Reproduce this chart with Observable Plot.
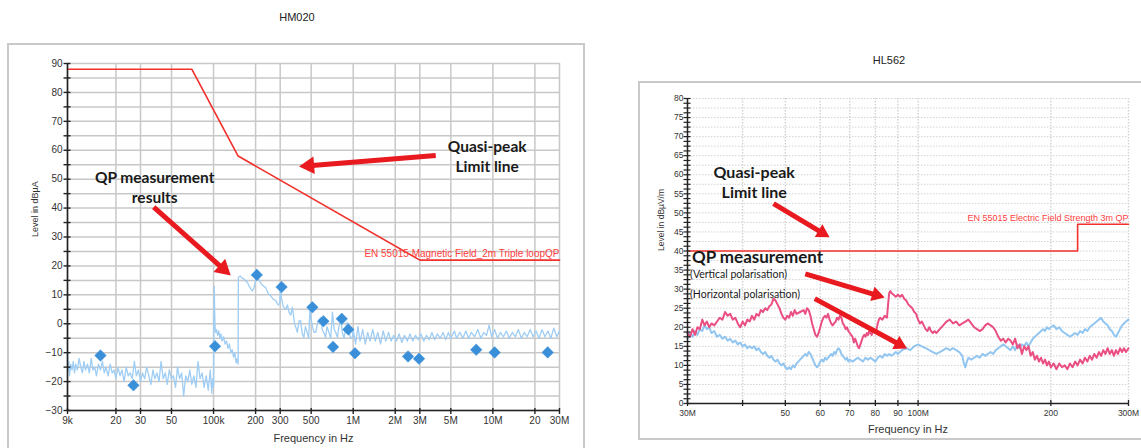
<!DOCTYPE html>
<html><head><meta charset="utf-8">
<script src="https://cdn.jsdelivr.net/npm/d3@7"></script>
<script src="https://cdn.jsdelivr.net/npm/@observablehq/plot@0.6"></script>
<style>
body{margin:0;background:#fff;font-family:"Liberation Sans",Arial,sans-serif;}
#root{position:relative;width:1141px;height:448px;overflow:hidden;background:#fff;}
.frame{position:absolute;border:2px solid #c9c9c9;box-sizing:border-box;}
.title{position:absolute;font-size:11px;color:#222;transform:translateX(-50%);white-space:nowrap;}
.chart{position:absolute;}
</style></head><body>
<div id="root">
 <div class="title" style="left:297px;top:11px">HM020</div>
 <div class="title" style="left:889px;top:54px">HL562</div>
 <div class="frame" style="left:7px;top:43px;width:578px;height:430px"></div>
 <div class="frame" style="left:638px;top:81px;width:530px;height:359px"></div>
 <div class="chart" id="left" style="left:0;top:44px;width:590px;height:404px"></div>
 <div class="chart" id="right" style="left:630px;top:82px;width:511px;height:366px"></div>
</div>
<script>
// ---------------- HM020 (left) : frequency in kHz ----------------
const hmXTicks = [9, 20, 30, 50, 100, 200, 300, 500, 1000, 2000, 3000, 5000, 10000, 20000, 30000];
const hmXLabels = ["9k", "20", "30", "50", "100k", "200", "300", "500", "1M", "2M", "3M", "5M", "10M", "20", "30M"];
const hmYLabels = [-30, -20, -10, 0, 10, 20, 30, 40, 50, 60, 70, 80, 90];
const hmLimit = [[9, 88], [70, 88], [150, 58], [3000, 22], [30000, 22]];
const hmLimitLabel = "EN 55015 Magnetic Field_2m Triple loopQP";
const hmQP = [[15.5, -11], [26.7, -21.3], [102.5, -7.8], [204, 16.9], [307, 12.7], [510, 5.7], [612, 0.9],
  [717, -8], [828, 1.7], [923, -2], [1030, -10.2], [2470, -11.3], [2960, -12.1], [7600, -9], [10300, -9.9], [24700, -9.9]];
const hmTrace = [
  [9, -10], [9.1, -16], [9.2, -13], [9.3, -18], [9.5, -14], [9.7, -16], [9.9, -13], [10.1, -17], [10.3, -14], [10.6, -16],
  [10.9, -12], [11.2, -15], [11.5, -17], [11.8, -13], [12.1, -16], [12.5, -14], [12.9, -17], [13.3, -12], [13.7, -16], [14.1, -15],
  [14.5, -18], [15, -14], [15.5, -16], [16, -13], [16.5, -17], [17, -15], [17.6, -18], [18.2, -14], [18.8, -17], [19.4, -16],
  [20, -19], [20.7, -15], [21.4, -18], [22.1, -16], [22.9, -20], [23.7, -15], [24.5, -18], [25.3, -17], [26.2, -19], [27.1, -13],
  [28, -18], [29, -16], [30, -20], [31, -17], [32.1, -19], [33.2, -15], [34.4, -18], [35.6, -21], [36.8, -16], [38, -19],
  [39.3, -17], [40.7, -20], [42.1, -13], [43.6, -19], [45.1, -17], [46.6, -21], [48.2, -16], [49.9, -19], [51.6, -18], [53.4, -22],
  [55.2, -15], [57.1, -19], [59.1, -17], [61.1, -25], [63.2, -18], [65.4, -20], [67.6, -16], [69.9, -21], [72.3, -18], [74.8, -22],
  [77.4, -13], [80, -19], [82.8, -17], [85.6, -22], [88.6, -18], [91.6, -23], [94.8, -16], [97, -24], [98.5, -19], [99.5, -22],
  [100, -21], [100.3, -14], [100.8, 8], [101.2, 13], [101.8, 5], [102.5, -1], [103.5, -3], [105, -2], [107, -4], [109, -2.5],
  [111, -5], [113, -3.5], [115, -6], [118, -4.5], [121, -7], [124, -6], [127, -8.5], [130, -7], [133, -10], [136, -9],
  [139, -11.5], [142, -10], [145, -13.5], [148, -12], [149.5, -14], [150, -13], [150.5, 16], [155, 16.5], [160, 15.8], [165, 15.5],
  [170, 14.8], [175, 14.3], [180, 13], [185, 12], [190, 11.3], [195, 12.5], [200, 15], [205, 16], [211, 15.3], [218, 14],
  [225, 13.2], [236, 12.5], [246, 10.5], [256, 9.7], [267, 8.5], [279, 8], [290, 6.5], [298, 7], [302, 13.8], [306, 9],
  [315, 6], [329, 5], [338, 6.5], [347, 4], [357, 3], [367, 5.7], [380, 0], [390, -1.5], [398, -3], [410, 1],
  [420, 1.1], [432, -3.5], [443, -4.7], [455, -1], [468, -3], [480, -5], [490, 5], [498, 2], [510, -1], [525, -3],
  [539, -3], [560, 1], [585, 2.2], [600, -2], [615, -3], [634, -4.7], [650, -1], [670, -3], [690, -5], [710, 4],
  [730, -2], [750, -3], [771, -4.7], [790, -1], [817, 1.7], [835, -3], [860, -5], [885, -1], [907, 0.5], [930, -3],
  [960, -5], [986, -4.7], [1000, -2], [1040, -7], [1080, -1], [1120, -6], [1170, -2], [1220, -7], [1270, -3], [1320, -6],
  [1380, -2], [1440, -6], [1500, -3], [1570, -7], [1640, -2.5], [1710, -6], [1790, -3], [1870, -6], [1950, -4], [2040, -6],
  [2130, -3.5], [2230, -6.5], [2330, -4], [2440, -6], [2550, -3.5], [2670, -6], [2790, -4], [2920, -5.5], [3050, -3.5], [3200, -6],
  [3350, -4], [3500, -5.5], [3660, -3], [3830, -5.5], [4000, -3.5], [4200, -5], [4400, -3], [4600, -5.5], [4800, -3], [5000, -5],
  [5300, -2.5], [5500, -5], [5800, -3], [6100, -5], [6400, -2.5], [6700, -5], [7000, -3], [7400, -4.5], [7800, -2], [8200, -5],
  [8600, -3], [9000, -4], [9400, -0.5], [9800, -4.5], [10300, -2], [10800, -5], [11300, -3], [11900, -4.5], [12500, -2.5], [13100, -5],
  [13800, -3], [14500, -4.5], [15200, -2], [16000, -5], [16800, -3], [17600, -4.5], [18500, -2], [19400, -4.5], [20400, -2.5], [21400, -5],
  [22500, -2], [23600, -4.5], [24800, -2.5], [26000, -5], [27300, -1.5], [28700, -4.5], [30000, -2.5]];
const hmNotes = [
  {x: 37.9, y: 47.4, text: "QP measurement\nresults"},
  {x: 9100, y: 58.1, text: "Quasi-peak\nLimit line"}];
const hmArrows = [
  {x1: 37.3, y1: 40.3, x2: 132.8, y2: 16.7},
  {x1: 3900, y1: 58.2, x2: 409, y2: 54.4}];

// ---------------- HL562 (right) : frequency in MHz ----------------
const hlXTicks = [30, 40, 50, 60, 70, 80, 90, 100, 200, 300];
const hlXLabels = ["30M", "", "50", "60", "70", "80", "90", "100M", "200", "300M"];
const hlYLabels = [0, 5, 10, 15, 20, 25, 30, 35, 40, 45, 50, 55, 60, 65, 70, 75, 80];
const hlLimit = [[30, 40], [230, 40], [230, 47], [300, 47]];
const hlLimitLabel = "EN 55015 Electric Field Strength 3m QP";
const hlVertical = [
  [30, 18.5], [30.4, 17.5], [30.8, 19.5], [31.2, 18], [31.6, 20], [32, 19.5], [32.4, 22], [32.8, 20.5], [33.2, 21.5], [33.6, 20],
  [34, 21], [34.5, 20.5], [35, 21.5], [35.5, 22.5], [36, 22], [36.5, 24], [37, 23], [37.5, 23.5], [38, 22], [38.5, 22.5],
  [39, 21], [39.5, 20], [40, 21.5], [40.5, 20.5], [41, 22], [41.5, 21.5], [42, 23], [42.5, 22], [43, 23.5], [43.5, 23],
  [44, 24.5], [44.5, 24], [45, 25], [45.5, 24.5], [46, 25.5], [46.5, 26], [47, 27.5], [47.5, 27], [48, 26], [48.5, 25],
  [49, 23.5], [49.5, 22.5], [50, 22], [50.5, 23], [51, 22.5], [51.5, 24], [52, 23], [52.5, 24.5], [53, 23.5], [54, 24],
  [55, 24.5], [55.5, 23.5], [56, 25], [56.5, 24.5], [57, 23], [57.5, 21], [58, 19.5], [58.5, 18], [59, 17.5], [59.5, 18.5],
  [60, 20], [60.5, 21.5], [61, 22.5], [61.5, 23], [62, 22.5], [62.5, 23.5], [63, 22], [63.5, 21], [64, 20.5], [64.5, 21],
  [65, 21.5], [65.5, 22.5], [66, 22], [66.5, 23], [67, 22.5], [67.5, 21], [68, 20.5], [68.5, 19.5], [69, 20], [69.5, 19],
  [70, 18.5], [70.5, 18], [71, 17.5], [71.5, 16], [72, 17], [72.5, 16], [73, 15], [73.5, 14.5], [74, 15.5], [74.5, 16.5],
  [75, 17.5], [75.5, 18], [76, 17.5], [76.5, 18.5], [77, 18], [77.5, 19], [78, 18.5], [78.5, 18], [79, 19], [80, 18.5],
  [80.5, 19.5], [81, 21], [81.5, 22], [82, 22.5], [83, 22], [84, 23], [85, 22.5], [85.5, 26], [86, 29], [86.5, 29.5],
  [87, 29], [88, 28.5], [89, 28], [90, 28.5], [91, 28], [92, 28.5], [93, 27.5], [94, 27], [95, 26], [96, 25.5],
  [97, 25], [98, 24], [99, 23.5], [100, 22], [101, 21], [102, 21.5], [103, 20.5], [104, 19.5], [105, 19], [106, 20],
  [107, 19], [108, 18.5], [109, 19], [110, 18.5], [112, 19.5], [114, 20.5], [116, 21.5], [118, 22], [120, 21], [122, 21.5],
  [124, 20.5], [126, 21], [128, 21.5], [130, 22], [132, 21], [134, 20], [136, 19.5], [138, 19], [140, 19.5], [142, 20.5],
  [144, 21], [146, 20.5], [148, 20], [150, 19], [152, 17.5], [154, 16.5], [156, 17], [158, 16], [160, 17], [162, 16.5],
  [164, 15.5], [166, 17], [168, 14.5], [170, 15.5], [172, 13], [174, 15], [176, 14], [178, 15], [180, 12.5], [182, 13.5],
  [184, 11.5], [186, 12.5], [188, 11], [190, 12], [192, 10.5], [194, 11.5], [196, 10], [198, 11], [200, 9.5], [203, 10.5],
  [206, 9], [209, 10.5], [212, 9.5], [215, 10], [218, 9], [221, 10.5], [224, 9.5], [227, 11], [230, 10], [233, 11.5],
  [236, 10.5], [239, 12], [242, 11], [245, 12.5], [248, 11.5], [251, 13], [254, 12], [257, 13.5], [260, 12.5], [263, 14],
  [266, 13], [269, 14.5], [272, 13], [275, 14], [278, 12.5], [281, 14], [284, 13], [287, 14.5], [290, 13.5], [293, 14.5],
  [296, 13.5], [300, 14.5]];
const hlHorizontal = [
  [30, 17], [30.4, 18.5], [30.8, 17.5], [31.2, 19], [31.6, 18], [32, 19.5], [32.4, 19], [32.8, 20.5], [33.2, 19.5], [33.6, 20],
  [34, 18.5], [34.5, 19], [35, 17.5], [35.5, 18], [36, 17], [36.5, 17.5], [37, 16.5], [37.5, 17], [38, 16], [38.5, 16.5],
  [39, 15.5], [39.5, 16], [40, 15], [40.5, 15.5], [41, 14.5], [41.5, 15], [42, 14.5], [42.5, 15], [43, 14], [43.5, 14.5],
  [44, 13.5], [44.5, 13], [45, 13.5], [45.5, 12.5], [46, 12], [46.5, 12.5], [47, 11.5], [47.5, 11], [48, 11.5], [48.5, 10.5],
  [49, 10], [49.5, 10.5], [50, 9.5], [50.5, 9], [51, 9.5], [51.5, 9], [52, 10], [52.5, 9.5], [53, 10.5], [53.5, 11],
  [54, 11.5], [54.5, 12], [55, 12.5], [55.5, 13], [56, 12.5], [56.5, 13.5], [57, 13], [57.5, 12], [58, 11], [58.5, 10],
  [59, 9.5], [59.5, 10], [60, 11], [60.5, 11.5], [61, 11], [61.5, 12], [62, 11.5], [62.5, 12], [63, 12.5], [63.5, 13],
  [64, 12.5], [64.5, 13.5], [65, 13], [65.5, 14], [66, 14.5], [66.5, 14], [67, 13], [67.5, 12.5], [68, 12], [68.5, 11.5],
  [69, 12], [69.5, 11], [70, 11.5], [71, 11], [72, 11.5], [73, 12], [74, 11.5], [75, 11], [76, 12], [77, 11.5],
  [78, 12], [79, 11.5], [80, 11], [81, 12], [82, 12.5], [83, 12], [84, 13], [85, 12.5], [86, 13], [87, 12.5],
  [88, 13], [89, 13.5], [90, 13], [91, 13.5], [92, 14], [94, 14.5], [96, 14], [98, 15], [100, 15.5], [102, 15],
  [104, 14.5], [106, 14], [108, 13.5], [110, 13], [112, 13.5], [114, 14], [116, 14.5], [118, 14], [120, 14.5], [122, 14],
  [124, 13.5], [126, 12.5], [127, 10.5], [128, 9.5], [129, 11], [130, 12], [132, 11.5], [134, 12], [136, 12.5], [138, 12],
  [140, 13], [142, 12.5], [144, 13], [146, 13.5], [148, 13], [150, 14], [152, 14.5], [154, 15], [156, 15.5], [158, 15],
  [160, 14.5], [162, 14], [164, 15], [166, 14], [168, 15.5], [170, 14.5], [172, 15.5], [174, 15], [176, 16], [178, 15],
  [180, 16], [182, 17], [184, 17.5], [186, 18], [188, 18.5], [190, 19], [192, 19.5], [194, 19], [196, 20], [198, 19.5],
  [200, 20], [203, 20.5], [206, 19.5], [209, 20], [212, 19], [215, 18.5], [218, 18], [221, 17.5], [224, 18], [227, 18.5],
  [230, 18], [233, 19], [236, 18.5], [239, 19.5], [242, 19], [245, 20], [248, 20.5], [251, 21], [254, 21.5], [257, 22],
  [260, 22.5], [263, 21.5], [266, 21], [269, 20.5], [272, 19.5], [275, 19], [278, 18], [281, 17.5], [284, 18.5], [287, 19.5],
  [290, 20.5], [293, 21], [296, 21.5], [300, 22]];
const hlNotes = [
  {x: 42.5, y: 58.2, text: "Quasi-peak\nLimit line", size: 16, weight: "bold", anchor: "middle"},
  {x: 30.7, y: 38.7, text: "QP measurement", size: 17, weight: "bold", anchor: "start"},
  {x: 30.4, y: 33.9, text: "(Vertical polarisation)", size: 10.5, weight: "normal", anchor: "start"},
  {x: 30.4, y: 28.9, text: "(Horizontal polarisation)", size: 10.5, weight: "normal", anchor: "start"}];
const hlArrows = [
  {x1: 47, y1: 52.4, x2: 63, y2: 43.6},
  {x1: 55.5, y1: 34, x2: 84, y2: 27.8},
  {x1: 58.3, y1: 27.5, x2: 94.4, y2: 14.4}];

// ---------------- drawing ----------------
const FONT = "Liberation Sans, Arial, sans-serif";
const NOTEFONT = "Lato, 'Open Sans', sans-serif";
const RED = "#e8191f";
const baseStyle = {fontFamily: FONT, fontSize: "10px", color: "#333", background: "transparent", overflow: "visible", maxWidth: "none"};

// arrows: shaft (link) + filled triangular head, oriented with the plot's own scales
function arrowMarks(arrows, xs, ys, r) {
  const shafts = [], heads = [];
  for (const a of arrows) {
    const px1 = xs.apply(a.x1), py1 = ys.apply(a.y1), px2 = xs.apply(a.x2), py2 = ys.apply(a.y2);
    const len = Math.hypot(px2 - px1, py2 - py1), ux = (px2 - px1) / len, uy = (py2 - py1) / len;
    const h = r * 1.555;
    const cx = px2 - ux * h, cy = py2 - uy * h;
    shafts.push({x1: a.x1, y1: a.y1, x2: xs.invert(cx), y2: ys.invert(cy)});
    heads.push({x: xs.invert(cx), y: ys.invert(cy), rotate: Math.atan2(ux, -uy) * 180 / Math.PI});
  }
  return [
    Plot.link(shafts, {x1: "x1", y1: "y1", x2: "x2", y2: "y2", stroke: RED, strokeWidth: 5}),
    Plot.dot(heads, {x: "x", y: "y", rotate: "rotate", symbol: "triangle", r, fill: RED, stroke: "none"})
  ];
}

const L = {w: 590, h: 404, ml: 67, mr: 31, mt: 19, mb: 38};
const hmXs = Plot.scale({x: {type: "log", domain: [9, 30000], range: [L.ml, L.w - L.mr]}});
const hmYs = Plot.scale({y: {domain: [-30, 90], range: [L.h - L.mb, L.mt]}});

const leftPlot = Plot.plot({
  width: L.w, height: L.h,
  marginLeft: L.ml, marginRight: L.mr, marginTop: L.mt, marginBottom: L.mb,
  style: baseStyle,
  x: {type: "log", domain: [9, 30000]},
  y: {domain: [-30, 90]},
  marks: [
    Plot.gridY({ticks: d3.range(-30, 91, 5), stroke: "#c8c8c8", strokeOpacity: 1, strokeWidth: 1.5}),
    Plot.gridX({ticks: hmXTicks, stroke: "#c8c8c8", strokeOpacity: 1, strokeWidth: 1.5}),
    Plot.line(hmTrace, {x: d => d[0], y: d => d[1], stroke: "#9fcdf4", strokeWidth: 1.3}),
    Plot.line(hmLimit, {x: d => d[0], y: d => d[1], stroke: "#f2302c", strokeWidth: 1.6}),
    Plot.text([hmLimitLabel], {x: 30000, y: 22, text: d => d, textAnchor: "end", dy: -6, fill: "#ff3d3d", fontSize: 10}),
    Plot.dot(hmQP, {x: d => d[0], y: d => d[1], symbol: "diamond2", r: 5.2, fill: "#3a8fd9", stroke: "#3a8fd9", strokeWidth: 0.5}),
    Plot.ruleX([9], {stroke: "#222", strokeWidth: 1.6}),
    Plot.ruleY([-30], {stroke: "#222", strokeWidth: 1.6}),
    Plot.axisY({ticks: d3.range(-30, 91, 5), tickSize: 7, dx: 3.5, tickFormat: () => "", label: null, stroke: "#222", strokeWidth: 1.4}),
    Plot.axisY({ticks: hmYLabels, tickSize: 0, tickPadding: 5, label: null, fontSize: 10, fill: "#333"}),
    Plot.axisX({ticks: hmXTicks, tickSize: 6, dy: -2, tickFormat: () => "", label: null, stroke: "#222", strokeWidth: 1.4}),
    Plot.text(hmXTicks, {x: d => d, text: (d, i) => hmXLabels[i], frameAnchor: "bottom", dy: 13, fontSize: 10, fill: "#333"}),
    Plot.text(["Level in dBµA"], {frameAnchor: "left", dx: -32, rotate: -90, fontSize: 9, fill: "#333"}),
    Plot.text(["Frequency in Hz"], {frameAnchor: "bottom", dy: 31, fontSize: 11, fill: "#333"}),
    ...arrowMarks(hmArrows, hmXs, hmYs, 6.5),
    Plot.text(hmNotes, {x: "x", y: "y", text: "text", fontFamily: NOTEFONT, fontWeight: "bold", fontSize: 15.5, lineHeight: 1.3, fill: "#1a1a1a"})
  ]
});
document.getElementById("left").appendChild(leftPlot);

const R = {w: 511, h: 366, ml: 57, mr: 13, mt: 16, mb: 45};
const hlXs = Plot.scale({x: {type: "log", domain: [30, 300], range: [R.ml, R.w - R.mr]}});
const hlYs = Plot.scale({y: {domain: [0, 80], range: [R.h - R.mb, R.mt]}});

const rightPlot = Plot.plot({
  width: R.w, height: R.h,
  marginLeft: R.ml, marginRight: R.mr, marginTop: R.mt, marginBottom: R.mb,
  style: baseStyle,
  x: {type: "log", domain: [30, 300]},
  y: {domain: [0, 80]},
  marks: [
    Plot.gridY({ticks: d3.range(0, 80.1, 2.5), stroke: "#d2d2d2", strokeOpacity: 1, strokeWidth: 1, strokeDasharray: "1.5,1.5"}),
    Plot.gridX({ticks: hlXTicks, stroke: "#d2d2d2", strokeOpacity: 1, strokeWidth: 1.4, strokeDasharray: "1.5,1.5"}),
    Plot.line(hlHorizontal, {x: d => d[0], y: d => d[1], stroke: "#92c6f0", strokeWidth: 2}),
    Plot.line(hlVertical, {x: d => d[0], y: d => d[1], stroke: "#ea4f82", strokeWidth: 2}),
    Plot.line(hlLimit, {x: d => d[0], y: d => d[1], stroke: "#f2302c", strokeWidth: 1.6}),
    Plot.text([hlLimitLabel], {x: 300, y: 47, text: d => d, textAnchor: "end", dy: -6, fill: "#ff3d3d", fontSize: 9}),
    Plot.ruleX([30], {stroke: "#222", strokeWidth: 1.5}),
    Plot.ruleY([0], {stroke: "#222", strokeWidth: 1.5}),
    Plot.axisY({ticks: d3.range(0, 80.1, 1.25), tickSize: 7, dx: 3.5, tickFormat: () => "", label: null, stroke: "#222", strokeWidth: 1.2}),
    Plot.axisY({ticks: hlYLabels, tickSize: 0, tickPadding: 4, label: null, fontSize: 8.5, fill: "#333"}),
    Plot.axisX({ticks: hlXTicks, tickSize: 6, dy: -3, tickFormat: () => "", label: null, stroke: "#222", strokeWidth: 1.3}),
    Plot.text(hlXTicks, {x: d => d, text: (d, i) => hlXLabels[i], frameAnchor: "bottom", dy: 12, fontSize: 8.5, fill: "#333"}),
    Plot.text(["Level in dBµV/m"], {frameAnchor: "left", dx: -26, rotate: -90, fontSize: 8.5, fill: "#333"}),
    Plot.text(["Frequency in Hz"], {frameAnchor: "bottom", dy: 29, fontSize: 11, fill: "#333"}),
    ...arrowMarks(hlArrows, hlXs, hlYs, 5.5),
    ...hlNotes.map(n => Plot.text([n], {x: "x", y: "y", text: "text", textAnchor: n.anchor, fontFamily: NOTEFONT, fontWeight: n.weight, fontSize: n.size, lineHeight: 1.25, fill: "#1a1a1a"}))
  ]
});
document.getElementById("right").appendChild(rightPlot);
</script>
</body></html>
